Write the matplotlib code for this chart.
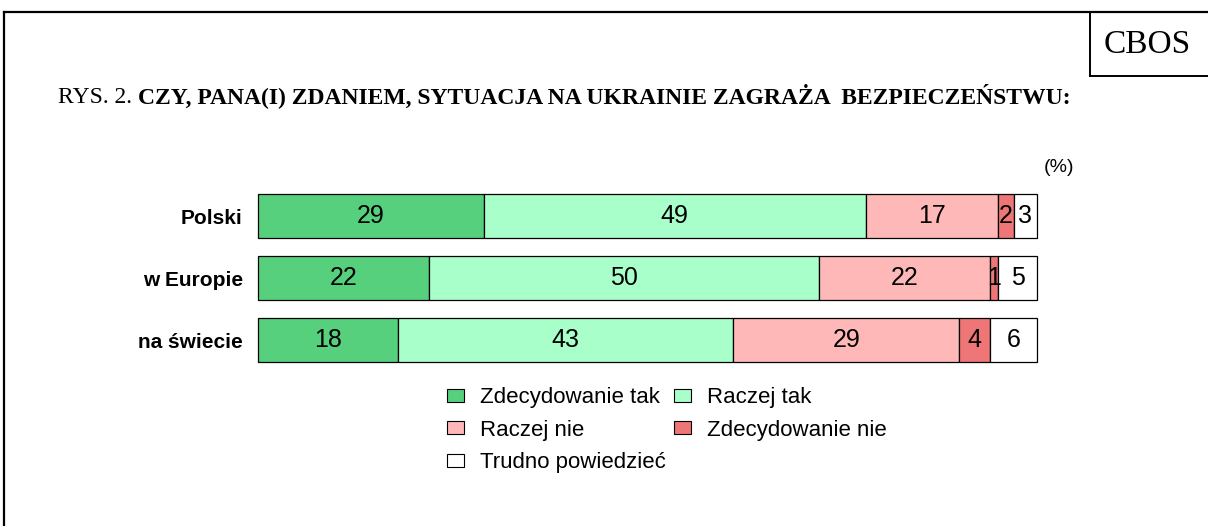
import numpy as np
import matplotlib.pyplot as plt
from matplotlib.lines import Line2D
from matplotlib.patches import Patch

# data
categories = ["Polski", "w Europie", "na świecie"]
series_names = ["Zdecydowanie tak", "Raczej tak", "Raczej nie",
                "Zdecydowanie nie", "Trudno powiedzieć"]
zdecydowanie_tak = [29, 22, 18]
raczej_tak = [49, 50, 43]
raczej_nie = [17, 22, 29]
zdecydowanie_nie = [2, 1, 4]
trudno = [3, 5, 6]
colors = ["#57D07E", "#A9FFCA", "#FFB8B8", "#EE7676", "#FFFFFF"]

W, H = 1208, 526
fig = plt.figure(figsize=(W / 100, H / 100), dpi=100)


def fx(px):
    return px / W


def fy(py):
    return 1 - py / H


# frame lines
fig.add_artist(Line2D([fx(4), fx(4)], [fy(12), fy(530)], color="black", lw=1.6,
                      transform=fig.transFigure))
fig.add_artist(Line2D([fx(4), fx(1210)], [fy(12), fy(12)], color="black", lw=1.6,
                      transform=fig.transFigure))
fig.add_artist(Line2D([fx(1090), fx(1090)], [fy(12), fy(76)], color="black", lw=1.4,
                      transform=fig.transFigure))
fig.add_artist(Line2D([fx(1090), fx(1210)], [fy(76), fy(76)], color="black", lw=1.4,
                      transform=fig.transFigure))
fig.text(fx(1147), fy(45), "CBOS", family="Liberation Serif", fontsize=24,
         ha="center", va="center")

# title
t1 = fig.text(fx(58), fy(103), "RYS. 2. ", family="Liberation Serif", fontsize=17,
              ha="left", va="baseline")
fig.canvas.draw()
bb = t1.get_window_extent()
fig.text(bb.x1 / W, fy(103), "CZY, PANA(I) ZDANIEM, SYTUACJA NA UKRAINIE ZAGRAŻA  BEZPIECZEŃSTWU:",
         family="Liberation Serif", fontsize=17, fontweight="bold", ha="left", va="baseline")

fig.text(fx(1059), fy(167), "(%)", family="Liberation Sans", fontsize=14,
         ha="center", va="center")

# bars
ax = fig.add_axes([fx(258), fy(371), fx(1037) - fx(258), (371 - 185) / H])
series = [zdecydowanie_tak, raczej_tak, raczej_nie, zdecydowanie_nie, trudno]
y = np.arange(len(categories))
left = np.zeros(len(categories))
for name, vals, c in zip(series_names, series, colors):
    vals = np.array(vals, dtype=float)
    ax.barh(y, vals, left=left, height=0.71, color=c, edgecolor="black",
            linewidth=0.9, label=name, clip_on=False)
    for yi, l, v in zip(y, left, vals):
        ax.text(l + v / 2, yi, f"{int(v)}", ha="center", va="center",
                family="Liberation Sans", fontsize=18)
    left += vals

ax.set_xlim(0, 100)
ax.set_ylim(len(categories) - 0.5, -0.5)
ax.set_yticks(y)
ax.set_yticklabels(categories, family="Liberation Sans", fontsize=15,
                   fontweight="bold")
ax.tick_params(axis="y", length=0, pad=11)
ax.set_xticks([])
for s in ax.spines.values():
    s.set_visible(False)

# legend (column-wise order)
handles = [Patch(facecolor=c, edgecolor="black", linewidth=0.8) for c in colors]
order = [0, 2, 4, 1, 3]
fig.legend([handles[i] for i in order], [series_names[i] for i in order],
           ncol=2, loc="upper left", bbox_to_anchor=(fx(447), fy(387)),
           frameon=False, prop={"family": "Liberation Sans", "size": 16},
           handlelength=0.77, handleheight=0.54, handletextpad=0.72,
           columnspacing=0.36, labelspacing=0.52, borderaxespad=0, borderpad=0)

fig.savefig("out.png", dpi=100)
